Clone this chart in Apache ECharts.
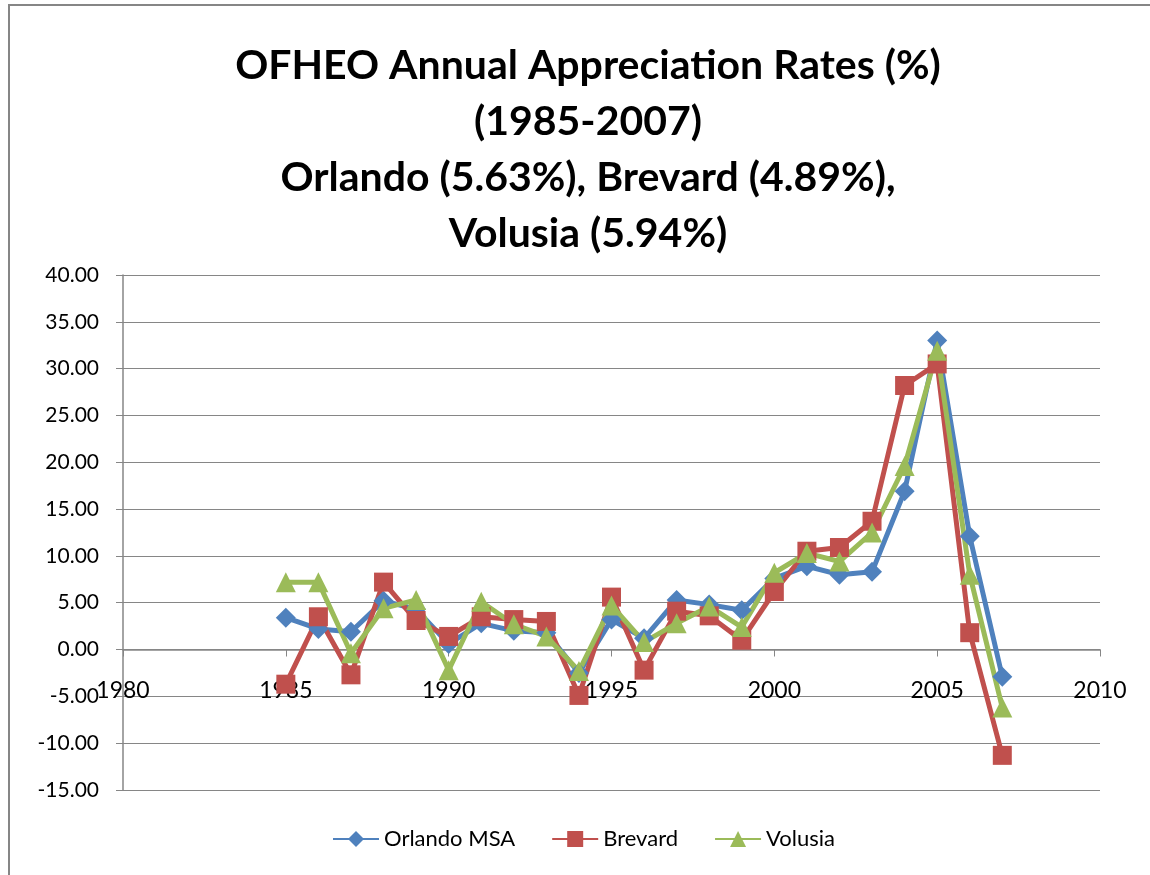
<!DOCTYPE html>
<html>
<head>
<meta charset="utf-8">
<title>OFHEO Annual Appreciation Rates</title>
<script src="https://cdn.jsdelivr.net/npm/echarts@6/dist/echarts.min.js"></script>
<style>
  html, body { margin: 0; padding: 0; background: #fff; }
  #chart { width: 1150px; height: 875px; }
</style>
</head>
<body>
<div id="chart"></div>
<script>
// data (annual appreciation, %)
const years = [1985, 1986, 1987, 1988, 1989, 1990, 1991, 1992, 1993, 1994, 1995, 1996,
  1997, 1998, 1999, 2000, 2001, 2002, 2003, 2004, 2005, 2006, 2007];
const orlando = [3.4, 2.2, 1.9, 5.2, 4.3, 0.6, 2.8, 2.0, 1.8, -2.5, 3.2, 1.2,
  5.3, 4.8, 4.2, 7.6, 8.9, 8.0, 8.3, 16.9, 33.0, 12.1, -2.9];
const brevard = [-3.7, 3.5, -2.7, 7.2, 3.1, 1.4, 3.5, 3.2, 3.0, -4.9, 5.6, -2.2,
  4.1, 3.6, 1.0, 6.2, 10.5, 10.9, 13.7, 28.2, 30.5, 1.8, -11.3];
const volusia = [7.2, 7.2, -0.4, 4.4, 5.3, -2.2, 5.1, 2.7, 1.4, -2.3, 4.7, 0.8,
  2.8, 4.6, 2.4, 8.2, 10.3, 9.4, 12.5, 19.6, 31.9, 8.0, -6.2];
const seriesNames = ['Orlando MSA', 'Brevard', 'Volusia'];
const titleLines = ['OFHEO Annual Appreciation Rates (%)', '(1985-2007)',
  'Orlando (5.63%), Brevard (4.89%),', 'Volusia (5.94%)'];

const font = 'Lato, "Liberation Sans", sans-serif';
const gray = '#868686';

function pairs(vals) {
  return years.map((y, i) => [y, vals[i]]);
}

function lineSeries(name, vals, color, symbol, size) {
  return {
    name: name,
    type: 'line',
    data: pairs(vals),
    symbol: symbol,
    symbolSize: size,
    showAllSymbol: true,
    lineStyle: { color: color, width: 5 },
    itemStyle: { color: color },
    emphasis: { disabled: true },
    animation: false
  };
}

let chart = echarts.init(document.getElementById('chart'));
chart.setOption({
  backgroundColor: '#fff',
  textStyle: { fontFamily: font, color: '#000' },
  graphic: [{
    type: 'rect',
    shape: { x: 9, y: 5, width: 1200, height: 900 },
    style: { fill: 'none', stroke: gray, lineWidth: 2 },
    silent: true
  }],
  title: {
    text: titleLines.join('\n'),
    left: 583,
    textAlign: 'center',
    top: 33,
    textStyle: { fontFamily: font, fontSize: 41, fontWeight: 'bold', color: '#000', lineHeight: 56 }
  },
  legend: {
    data: seriesNames,
    left: 332,
    top: 828,
    padding: 0,
    itemWidth: 46,
    itemHeight: 20,
    itemGap: 36,
    textStyle: { fontFamily: font, fontSize: 22, color: '#000' }
  },
  grid: { left: 123, right: 50, top: 275, bottom: 85, containLabel: false },
  xAxis: {
    type: 'value',
    min: 1980,
    max: 2010,
    interval: 5,
    // excel puts the axis on the zero line; move it up from the bottom
    offset: -140.5,
    axisLine: { onZero: false, lineStyle: { color: gray, width: 1.5 } },
    axisTick: { show: true, length: 7, lineStyle: { color: gray } },
    splitLine: { show: false },
    axisLabel: {
      margin: 30,
      fontSize: 23,
      fontFamily: font,
      color: '#000',
      formatter: v => String(v)
    }
  },
  yAxis: {
    type: 'value',
    min: -15,
    max: 40,
    interval: 5,
    axisLine: { show: true, onZero: false, lineStyle: { color: gray, width: 1.5 } },
    axisTick: { show: true, length: 7, lineStyle: { color: gray } },
    splitLine: { show: true, lineStyle: { color: gray, width: 1.2 } },
    axisLabel: {
      margin: 24,
      fontSize: 21,
      fontFamily: font,
      color: '#000',
      formatter: v => v.toFixed(2)
    }
  },
  series: [
    lineSeries(seriesNames[0], orlando, '#4F81BD', 'diamond', 20),
    lineSeries(seriesNames[1], brevard, '#C0504D', 'rect', 19),
    lineSeries(seriesNames[2], volusia, '#9BBB59', 'triangle', 20)
  ]
});
</script>
</body>
</html>
